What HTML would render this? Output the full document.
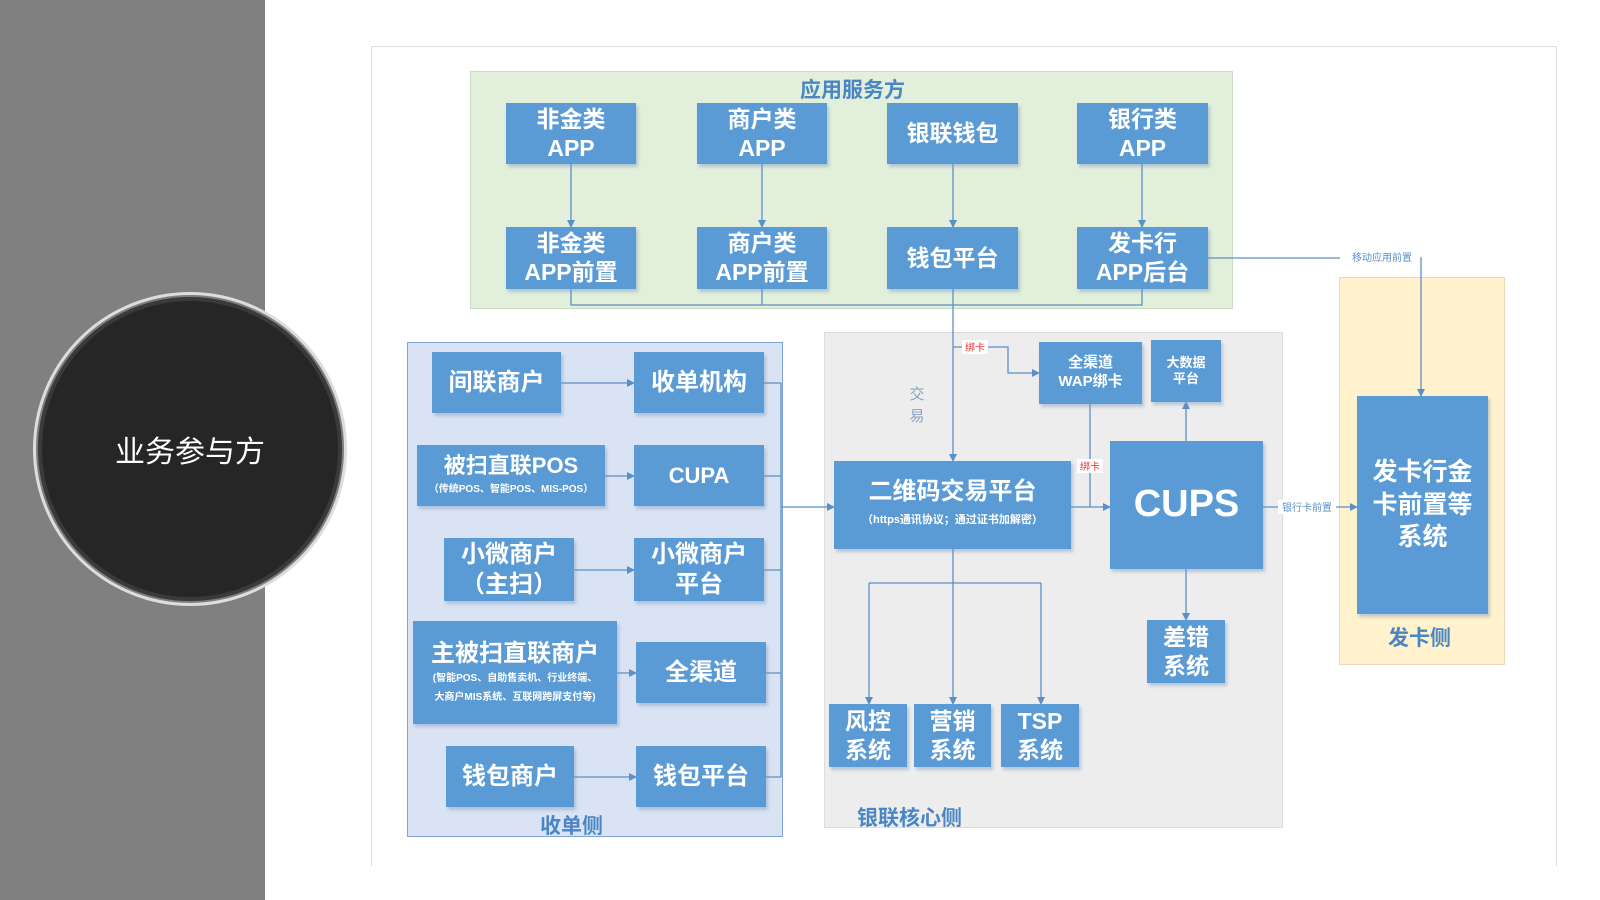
<!DOCTYPE html>
<html><head><meta charset="utf-8"><style>
*{margin:0;padding:0;box-sizing:border-box}
body{width:1600px;height:900px;position:relative;background:#fff;overflow:hidden;font-family:"Liberation Sans","Noto Sans CJK SC",sans-serif}
.a{position:absolute}
.b{position:absolute;background:#5b9bd5;color:#fff;font-weight:bold;display:flex;flex-direction:column;align-items:center;justify-content:center;text-align:center;line-height:1.25;box-shadow:2px 3px 3px rgba(120,150,190,.45)}
.t{position:absolute;color:#4a86c5;font-weight:bold;white-space:nowrap}
.s{font-size:10px;font-weight:bold;line-height:1.9}
</style></head><body>
<div class="a" style="left:0;top:0;width:265px;height:900px;background:#808080"></div>
<div class="a" style="left:33px;top:292px;width:314px;height:314px;border-radius:50%;background:#7d7d7d;border:3px solid #ddd"></div>
<div class="a" style="left:38px;top:297px;width:304px;height:304px;border-radius:50%;background:#262626;border:4px solid #3a3a3a;display:flex;align-items:center;justify-content:center;color:#fff;font-size:30px">业务参与方</div>

<div class="a" style="left:371px;top:46px;width:1186px;height:820px;border:1px solid #ddd;border-bottom:none"></div>

<div class="a" style="left:470px;top:71px;width:763px;height:238px;background:#e2efda;border:1px solid #c9dcc2"></div>
<div class="t" style="left:800px;top:74px;font-size:21px">应用服务方</div>
<div class="a" style="left:407px;top:342px;width:376px;height:495px;background:#dae3f3;border:1.5px solid #7fa3d6"></div>
<div class="t" style="left:540px;top:810px;font-size:21px">收单侧</div>
<div class="a" style="left:824px;top:332px;width:459px;height:496px;background:#ededed;border:1px solid #ddd"></div>
<div class="t" style="left:857px;top:802px;font-size:21px">银联核心侧</div>
<div class="a" style="left:1339px;top:277px;width:166px;height:388px;background:#fff2cc;border:1px solid #e8dcb8"></div>
<div class="t" style="left:1388px;top:622px;font-size:21px">发卡侧</div>

<svg class="a" style="left:0;top:0" width="1600" height="900">
<defs><marker id="m" markerWidth="8" markerHeight="8" refX="7" refY="4" orient="auto" markerUnits="userSpaceOnUse"><path d="M0,0 L8,4 L0,8z" fill="#5b8fc8"/></marker></defs>
<g stroke="#5b8fc8" stroke-width="1.3" fill="none">
<path d="M571,164V227" marker-end="url(#m)"/><path d="M762,164V227" marker-end="url(#m)"/><path d="M953,164V227" marker-end="url(#m)"/><path d="M1142,164V227" marker-end="url(#m)"/>
<path d="M571,289V305H1142V289M762,289V305"/>
<path d="M953,289V461" marker-end="url(#m)"/>
<path d="M1208,258H1421V396" marker-end="url(#m)"/>
<path d="M953,347H1008V373H1039" marker-end="url(#m)"/>
<path d="M1090,404V507"/>
<path d="M1071,507H1110" marker-end="url(#m)"/>
<path d="M1186,441V402" marker-end="url(#m)"/>
<path d="M1186,569V620" marker-end="url(#m)"/>
<path d="M1263,507H1357" marker-end="url(#m)"/>
<path d="M953,549V704" marker-end="url(#m)"/>
<path d="M869,583H1041"/><path d="M869,583V704" marker-end="url(#m)"/><path d="M1041,583V704" marker-end="url(#m)"/>
<path d="M561,383H634" marker-end="url(#m)"/><path d="M605,476H634" marker-end="url(#m)"/><path d="M574,570H634" marker-end="url(#m)"/><path d="M617,673H636" marker-end="url(#m)"/><path d="M574,777H636" marker-end="url(#m)"/>
<path d="M764,383H781M764,476H781M764,570H781M766,673H781M766,777H781M781,383V777"/>
<path d="M781,507H834" marker-end="url(#m)"/>
</g>
<rect x="1340" y="251" width="80" height="13" fill="#fff"/>
<text x="1382" y="261" font-size="10" fill="#5b8fc8" text-anchor="middle" font-family="Liberation Sans,Noto Sans CJK SC,sans-serif">移动应用前置</text>
<rect x="1278" y="500" width="58" height="14" fill="#fff"/>
<text x="1307" y="511" font-size="10" fill="#5b8fc8" text-anchor="middle" font-family="Liberation Sans,Noto Sans CJK SC,sans-serif">银行卡前置</text>
<rect x="962" y="340" width="26" height="14" fill="#fff"/>
<text x="975" y="351" font-size="10" fill="#e33" text-anchor="middle" font-family="Liberation Sans,Noto Sans CJK SC,sans-serif">绑卡</text>
<rect x="1077" y="459" width="26" height="14" fill="#fff"/>
<text x="1090" y="470" font-size="10" fill="#e33" text-anchor="middle" font-family="Liberation Sans,Noto Sans CJK SC,sans-serif">绑卡</text>
<text x="917" y="399" font-size="15" fill="#8aa3c4" text-anchor="middle" font-family="Liberation Sans,Noto Sans CJK SC,sans-serif">交</text>
<text x="917" y="421" font-size="15" fill="#8aa3c4" text-anchor="middle" font-family="Liberation Sans,Noto Sans CJK SC,sans-serif">易</text>
</svg>

<div class="b" style="left:506px;top:103px;width:130px;height:61px;font-size:23px">非金类<br>APP</div>
<div class="b" style="left:697px;top:103px;width:130px;height:61px;font-size:23px">商户类<br>APP</div>
<div class="b" style="left:887px;top:103px;width:131px;height:61px;font-size:23px">银联钱包</div>
<div class="b" style="left:1077px;top:103px;width:131px;height:61px;font-size:23px">银行类<br>APP</div>
<div class="b" style="left:506px;top:227px;width:130px;height:62px;font-size:23px">非金类<br>APP前置</div>
<div class="b" style="left:697px;top:227px;width:130px;height:62px;font-size:23px">商户类<br>APP前置</div>
<div class="b" style="left:887px;top:227px;width:131px;height:62px;font-size:23px">钱包平台</div>
<div class="b" style="left:1077px;top:227px;width:131px;height:62px;font-size:23px">发卡行<br>APP后台</div>

<div class="b" style="left:432px;top:352px;width:129px;height:61px;font-size:24px">间联商户</div>
<div class="b" style="left:634px;top:352px;width:130px;height:61px;font-size:24px">收单机构</div>
<div class="b" style="left:417px;top:445px;width:188px;height:61px;font-size:22px">被扫直联POS<span class="s">（传统POS、智能POS、MIS-POS）</span></div>
<div class="b" style="left:634px;top:445px;width:130px;height:61px;font-size:22px">CUPA</div>
<div class="b" style="left:444px;top:538px;width:130px;height:63px;font-size:24px">小微商户<br>（主扫）</div>
<div class="b" style="left:634px;top:538px;width:130px;height:63px;font-size:24px">小微商户<br>平台</div>
<div class="b" style="left:413px;top:621px;width:204px;height:103px;font-size:24px">主被扫直联商户<span class="s">(智能POS、自助售卖机、行业终端、<br>大商户MIS系统、互联网跨屏支付等)</span></div>
<div class="b" style="left:636px;top:642px;width:130px;height:61px;font-size:24px">全渠道</div>
<div class="b" style="left:446px;top:746px;width:128px;height:61px;font-size:24px">钱包商户</div>
<div class="b" style="left:636px;top:746px;width:130px;height:61px;font-size:24px">钱包平台</div>

<div class="b" style="left:834px;top:461px;width:237px;height:88px;font-size:24px">二维码交易平台<span class="s" style="font-size:11px;line-height:2.4">（https通讯协议；通过证书加解密）</span></div>
<div class="b" style="left:1110px;top:441px;width:153px;height:128px;font-size:38px">CUPS</div>
<div class="b" style="left:1039px;top:342px;width:103px;height:62px;font-size:15px">全渠道<br>WAP绑卡</div>
<div class="b" style="left:1151px;top:340px;width:70px;height:62px;font-size:13px">大数据<br>平台</div>
<div class="b" style="left:1147px;top:620px;width:78px;height:63px;font-size:23px">差错<br>系统</div>
<div class="b" style="left:829px;top:704px;width:78px;height:63px;font-size:23px">风控<br>系统</div>
<div class="b" style="left:914px;top:704px;width:77px;height:63px;font-size:23px">营销<br>系统</div>
<div class="b" style="left:1001px;top:704px;width:78px;height:63px;font-size:23px">TSP<br>系统</div>
<div class="b" style="left:1357px;top:396px;width:131px;height:218px;font-size:25px;line-height:1.3">发卡行金<br>卡前置等<br>系统</div>
</body></html>
